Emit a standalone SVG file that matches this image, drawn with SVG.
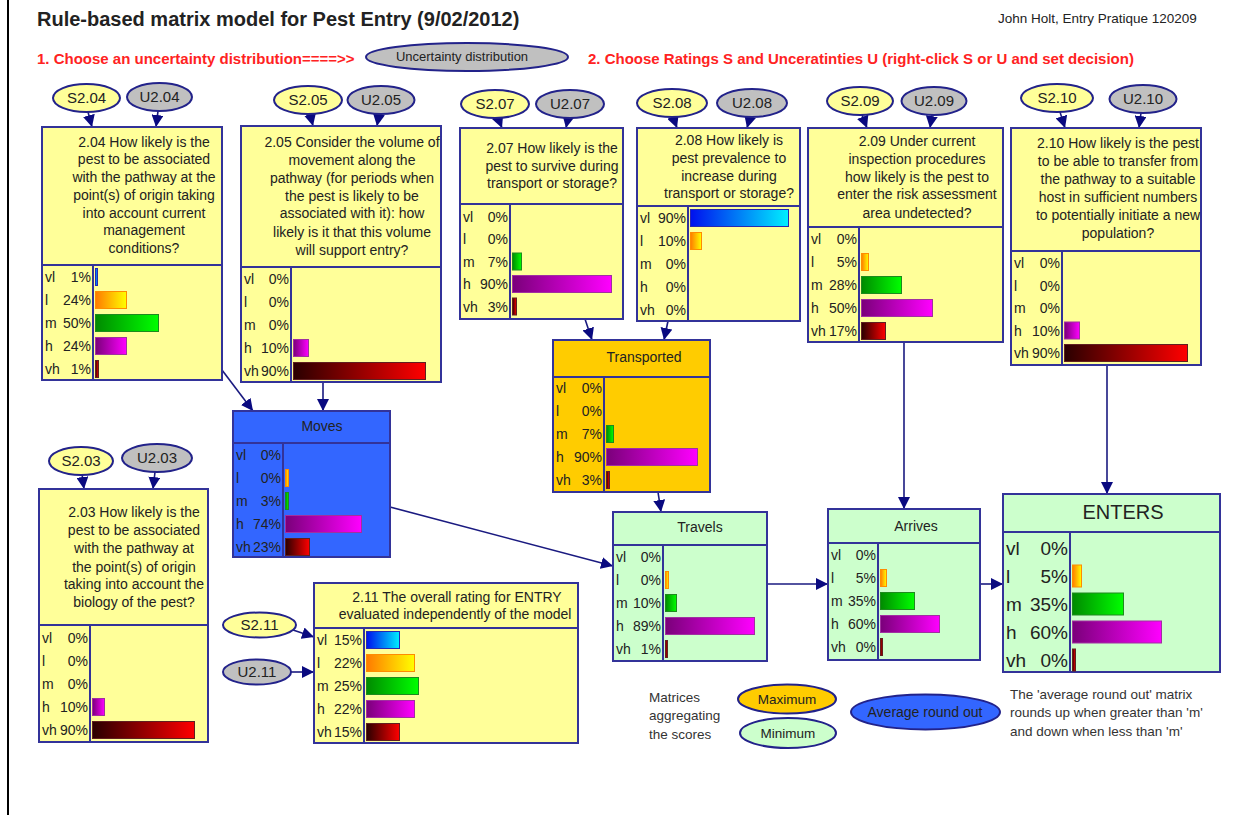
<svg xmlns="http://www.w3.org/2000/svg" width="1245" height="815" viewBox="0 0 1245 815">
<style>
text{font-family:"Liberation Sans",Arial,sans-serif;fill:#222}
.q{font-size:14px;text-anchor:middle}
.lb{font-size:14px}
.pc{font-size:14px;text-anchor:end}
.lbB{font-size:19px}
.pcB{font-size:19px;text-anchor:end}
.box{stroke:#333399;stroke-width:2}
.ln{stroke:#333399;stroke-width:2;fill:none}
.yel{fill:#FFFF99}
.grn{fill:#CCFFCC}
.ell{stroke:#22228a;stroke-width:2}
.s{fill:#FFFF99}
.u{fill:#C0C0C0}
.et{font-size:15px;text-anchor:middle}
.conn{stroke:#1a1a80;stroke-width:1.6;fill:none;marker-end:url(#arr)}
.red{font-size:15px;font-weight:bold;fill:#FF2222}
.bvl{fill:url(#gvl);stroke:#2828b0;stroke-width:1}
.bl{fill:url(#gl);stroke:#ff8c00;stroke-width:1}
.bm{fill:url(#gm);stroke:#1e8a1e;stroke-width:1}
.bh{fill:url(#gh);stroke:#a030a0;stroke-width:1}
.bvh{fill:url(#gvh);stroke:#602020;stroke-width:1}
.leg{font-size:13.5px;fill:#333}
</style>
<defs>
<linearGradient id="gvl"><stop offset="0" stop-color="#0010ee"/><stop offset="1" stop-color="#00f0ff"/></linearGradient>
<linearGradient id="gl"><stop offset="0" stop-color="#ff7a00"/><stop offset="1" stop-color="#ffff00"/></linearGradient>
<linearGradient id="gm"><stop offset="0" stop-color="#008a00"/><stop offset="1" stop-color="#00ff00"/></linearGradient>
<linearGradient id="gh"><stop offset="0" stop-color="#7a007a"/><stop offset="1" stop-color="#ff00ff"/></linearGradient>
<linearGradient id="gvh"><stop offset="0" stop-color="#2a0000"/><stop offset="1" stop-color="#ff0000"/></linearGradient>
<marker id="arr" markerUnits="userSpaceOnUse" markerWidth="13" markerHeight="12" refX="12" refY="6" orient="auto"><path d="M0,0 L12,6 L0,12 z" fill="#0a0a80"/></marker>
</defs>
<rect x="0" y="0" width="1245" height="815" fill="#ffffff"/>
<line x1="8" y1="0" x2="8" y2="815" stroke="#000" stroke-width="2"/>

<g id="header">
<text x="37" y="26" style="font-size:20px;font-weight:bold">Rule-based matrix model for Pest Entry (9/02/2012)</text>
<text x="998" y="23" style="font-size:13.5px">John Holt, Entry Pratique 120209</text>
<text x="37" y="64" class="red">1. Choose an uncertainty distribution====&gt;&gt;</text>
<text x="588" y="64" class="red">2. Choose Ratings S and Unceratinties U (right-click S or U and set decision)</text>
</g>
<g id="uncertainty-distribution">
<ellipse cx="467" cy="57" rx="101" ry="14" class="ell u"/>
<text x="462" y="61" style="font-size:13px;text-anchor:middle">Uncertainty distribution</text>
</g>

<g id="connectors">
<line x1="88" y1="112" x2="92" y2="127" class="conn"/>
<line x1="158" y1="111" x2="156" y2="127" class="conn"/>
<line x1="310" y1="114" x2="313" y2="126" class="conn"/>
<line x1="379" y1="114" x2="377" y2="126" class="conn"/>
<line x1="498" y1="118" x2="502" y2="128" class="conn"/>
<line x1="568" y1="118" x2="566" y2="128" class="conn"/>
<line x1="673" y1="117" x2="677" y2="128" class="conn"/>
<line x1="750" y1="117" x2="747" y2="128" class="conn"/>
<line x1="862" y1="115" x2="867" y2="128" class="conn"/>
<line x1="932" y1="115" x2="930" y2="128" class="conn"/>
<line x1="1060" y1="112" x2="1065" y2="128" class="conn"/>
<line x1="1141" y1="113" x2="1139" y2="128" class="conn"/>
<line x1="82" y1="474" x2="84" y2="489" class="conn"/>
<line x1="155" y1="472" x2="153" y2="489" class="conn"/>
<line x1="222" y1="370" x2="253" y2="411" class="conn"/>
<line x1="323" y1="382" x2="323" y2="411" class="conn"/>
<line x1="585" y1="319" x2="592" y2="340" class="conn"/>
<line x1="668" y1="321" x2="664" y2="340" class="conn"/>
<line x1="658" y1="492" x2="661" y2="512" class="conn"/>
<line x1="390" y1="507" x2="613" y2="566" class="conn"/>
<line x1="767" y1="584" x2="828" y2="584" class="conn"/>
<line x1="904" y1="342" x2="904" y2="509" class="conn"/>
<line x1="980" y1="584" x2="1003" y2="584" class="conn"/>
<line x1="1107" y1="365" x2="1107" y2="494" class="conn"/>
<line x1="293" y1="630" x2="314" y2="637" class="conn"/>
<line x1="291" y1="672" x2="314" y2="672" class="conn"/>
</g>

<g id="S2.04"><ellipse cx="86.5" cy="98" rx="33.5" ry="14" class="ell s"/><text x="86.5" y="103" class="et">S2.04</text></g>
<g id="U2.04"><ellipse cx="159.5" cy="97" rx="32.5" ry="14" class="ell u"/><text x="159.5" y="102" class="et">U2.04</text></g>
<g id="S2.05"><ellipse cx="308" cy="100" rx="34" ry="14" class="ell s"/><text x="308" y="105" class="et">S2.05</text></g>
<g id="U2.05"><ellipse cx="381" cy="100" rx="33.5" ry="14" class="ell u"/><text x="381" y="105" class="et">U2.05</text></g>
<g id="S2.07"><ellipse cx="495" cy="104" rx="34" ry="14" class="ell s"/><text x="495" y="109" class="et">S2.07</text></g>
<g id="U2.07"><ellipse cx="570" cy="104" rx="34" ry="14" class="ell u"/><text x="570" y="109" class="et">U2.07</text></g>
<g id="S2.08"><ellipse cx="672" cy="103" rx="35" ry="14" class="ell s"/><text x="672" y="108" class="et">S2.08</text></g>
<g id="U2.08"><ellipse cx="752" cy="103" rx="35" ry="14" class="ell u"/><text x="752" y="108" class="et">U2.08</text></g>
<g id="S2.09"><ellipse cx="860" cy="101" rx="33" ry="14" class="ell s"/><text x="860" y="106" class="et">S2.09</text></g>
<g id="U2.09"><ellipse cx="934" cy="101" rx="32.5" ry="14" class="ell u"/><text x="934" y="106" class="et">U2.09</text></g>
<g id="S2.10"><ellipse cx="1057" cy="98" rx="36" ry="14" class="ell s"/><text x="1057" y="103" class="et">S2.10</text></g>
<g id="U2.10"><ellipse cx="1143" cy="99" rx="33.5" ry="14" class="ell u"/><text x="1143" y="104" class="et">U2.10</text></g>
<g id="S2.03"><ellipse cx="81" cy="461" rx="32" ry="14" class="ell s"/><text x="81" y="466" class="et">S2.03</text></g>
<g id="U2.03"><ellipse cx="157" cy="458" rx="35" ry="14" class="ell u"/><text x="157" y="463" class="et">U2.03</text></g>
<g id="S2.11"><ellipse cx="259.5" cy="625" rx="36.5" ry="12.5" class="ell s"/><text x="259.5" y="630" class="et">S2.11</text></g>
<g id="U2.11"><ellipse cx="257" cy="672" rx="34" ry="12.5" class="ell u"/><text x="257" y="677" class="et">U2.11</text></g>

<g id="node-2.04">
<rect x="42" y="127" width="180" height="253" class="box yel"/>
<line x1="42" y1="265" x2="222" y2="265" class="ln"/><line x1="93" y1="265" x2="93" y2="380" class="ln"/>
<text class="q" x="144"><tspan x="144" y="147">2.04 How likely is the</tspan><tspan x="144" y="164">pest to be associated</tspan><tspan x="144" y="182">with the pathway at the</tspan><tspan x="144" y="200">point(s) of origin taking</tspan><tspan x="144" y="218">into account current</tspan><tspan x="144" y="235">management</tspan><tspan x="144" y="253">conditions?</tspan></text>
<text class="lb" x="45" y="282">vl</text><text class="pc" x="91" y="282">1%</text>
<text class="lb" x="45" y="305">l</text><text class="pc" x="91" y="305">24%</text>
<text class="lb" x="45" y="328">m</text><text class="pc" x="91" y="328">50%</text>
<text class="lb" x="45" y="351">h</text><text class="pc" x="91" y="351">24%</text>
<text class="lb" x="45" y="374">vh</text><text class="pc" x="91" y="374">1%</text>
<rect x="95.5" y="268.5" width="2" height="17" class="bvl"/>
<rect x="95.5" y="291.5" width="31" height="17" class="bl"/>
<rect x="95.5" y="314.5" width="63" height="17" class="bm"/>
<rect x="95.5" y="337.5" width="31" height="17" class="bh"/>
<rect x="95.5" y="360.5" width="3" height="17" class="bvh"/>
</g>

<g id="node-2.05">
<rect x="241" y="126" width="200" height="256" class="box yel"/>
<line x1="241" y1="267" x2="441" y2="267" class="ln"/><line x1="291" y1="267" x2="291" y2="382" class="ln"/>
<text class="q"><tspan x="352" y="147">2.05 Consider the volume of</tspan><tspan x="352" y="165">movement along the</tspan><tspan x="352" y="183">pathway (for periods when</tspan><tspan x="352" y="201">the pest is likely to be</tspan><tspan x="352" y="218">associated with it): how</tspan><tspan x="352" y="237">likely is it that this volume</tspan><tspan x="352" y="255">will support entry?</tspan></text>
<text class="lb" x="244" y="284">vl</text><text class="pc" x="289" y="284">0%</text>
<text class="lb" x="244" y="307">l</text><text class="pc" x="289" y="307">0%</text>
<text class="lb" x="244" y="330">m</text><text class="pc" x="289" y="330">0%</text>
<text class="lb" x="244" y="353">h</text><text class="pc" x="289" y="353">10%</text>
<text class="lb" x="244" y="376">vh</text><text class="pc" x="289" y="376">90%</text>
<rect x="293.5" y="339.5" width="15" height="17" class="bh"/>
<rect x="293.5" y="362.5" width="132" height="17" class="bvh"/>
</g>

<g id="node-2.07">
<rect x="460" y="128" width="163" height="191" class="box yel"/>
<line x1="460" y1="204" x2="623" y2="204" class="ln"/><line x1="510" y1="204" x2="510" y2="319" class="ln"/>
<text class="q"><tspan x="552" y="153">2.07 How likely is the</tspan><tspan x="552" y="171">pest to survive during</tspan><tspan x="552" y="188">transport or storage?</tspan></text>
<text class="lb" x="463" y="221.5">vl</text><text class="pc" x="508" y="221.5">0%</text>
<text class="lb" x="463" y="244">l</text><text class="pc" x="508" y="244">0%</text>
<text class="lb" x="463" y="266.5">m</text><text class="pc" x="508" y="266.5">7%</text>
<text class="lb" x="463" y="289">h</text><text class="pc" x="508" y="289">90%</text>
<text class="lb" x="463" y="311.5">vh</text><text class="pc" x="508" y="311.5">3%</text>
<rect x="512.5" y="253" width="9" height="17" class="bm"/>
<rect x="512.5" y="275.5" width="99" height="17" class="bh"/>
<rect x="512.5" y="298" width="4" height="17" class="bvh"/>
</g>

<g id="node-2.08">
<rect x="637" y="128" width="163" height="193" class="box yel"/>
<line x1="637" y1="206" x2="800" y2="206" class="ln"/><line x1="688" y1="206" x2="688" y2="321" class="ln"/>
<text class="q"><tspan x="729" y="145">2.08 How likely is</tspan><tspan x="729" y="163">pest prevalence to</tspan><tspan x="729" y="181">increase during</tspan><tspan x="729" y="198">transport or storage?</tspan></text>
<text class="lb" x="640" y="223">vl</text><text class="pc" x="686" y="223">90%</text>
<text class="lb" x="640" y="246">l</text><text class="pc" x="686" y="246">10%</text>
<text class="lb" x="640" y="269">m</text><text class="pc" x="686" y="269">0%</text>
<text class="lb" x="640" y="292">h</text><text class="pc" x="686" y="292">0%</text>
<text class="lb" x="640" y="315">vh</text><text class="pc" x="686" y="315">0%</text>
<rect x="690.5" y="209.5" width="98" height="17" class="bvl"/>
<rect x="690.5" y="232.5" width="11" height="17" class="bl"/>
</g>

<g id="node-2.09">
<rect x="808" y="128" width="195" height="214" class="box yel"/>
<line x1="808" y1="227" x2="1003" y2="227" class="ln"/><line x1="859" y1="227" x2="859" y2="342" class="ln"/>
<text class="q"><tspan x="917" y="146">2.09 Under current</tspan><tspan x="917" y="164">inspection procedures</tspan><tspan x="917" y="182">how likely is the pest to</tspan><tspan x="917" y="199">enter the risk assessment</tspan><tspan x="917" y="218">area undetected?</tspan></text>
<text class="lb" x="811" y="244">vl</text><text class="pc" x="857" y="244">0%</text>
<text class="lb" x="811" y="267">l</text><text class="pc" x="857" y="267">5%</text>
<text class="lb" x="811" y="290">m</text><text class="pc" x="857" y="290">28%</text>
<text class="lb" x="811" y="313">h</text><text class="pc" x="857" y="313">50%</text>
<text class="lb" x="811" y="336">vh</text><text class="pc" x="857" y="336">17%</text>
<rect x="861.5" y="253.5" width="7" height="17" class="bl"/>
<rect x="861.5" y="276.5" width="40" height="17" class="bm"/>
<rect x="861.5" y="299.5" width="71" height="17" class="bh"/>
<rect x="861.5" y="322.5" width="24" height="17" class="bvh"/>
</g>

<g id="node-2.10">
<rect x="1011" y="128" width="190" height="237" class="box yel"/>
<line x1="1011" y1="251" x2="1201" y2="251" class="ln"/><line x1="1062" y1="251" x2="1062" y2="365" class="ln"/>
<text class="q"><tspan x="1118" y="148">2.10 How likely is the pest</tspan><tspan x="1118" y="166">to be able to transfer from</tspan><tspan x="1118" y="184">the pathway to a suitable</tspan><tspan x="1118" y="202">host in sufficient numbers</tspan><tspan x="1118" y="220">to potentially initiate a new</tspan><tspan x="1118" y="238">population?</tspan></text>
<text class="lb" x="1014" y="268">vl</text><text class="pc" x="1060" y="268">0%</text>
<text class="lb" x="1014" y="290.5">l</text><text class="pc" x="1060" y="290.5">0%</text>
<text class="lb" x="1014" y="313">m</text><text class="pc" x="1060" y="313">0%</text>
<text class="lb" x="1014" y="335.5">h</text><text class="pc" x="1060" y="335.5">10%</text>
<text class="lb" x="1014" y="358">vh</text><text class="pc" x="1060" y="358">90%</text>
<rect x="1064.5" y="322" width="15" height="17" class="bh"/>
<rect x="1064.5" y="344.5" width="123" height="17" class="bvh"/>
</g>

<g id="node-moves">
<rect x="233" y="411" width="157" height="146" class="box" fill="#3366FF"/>
<line x1="233" y1="443" x2="390" y2="443" class="ln"/><line x1="283" y1="443" x2="283" y2="557" class="ln"/>
<text class="q" x="322" y="431">Moves</text>
<text class="lb" x="236" y="460">vl</text><text class="pc" x="281" y="460">0%</text>
<text class="lb" x="236" y="483">l</text><text class="pc" x="281" y="483">0%</text>
<text class="lb" x="236" y="506">m</text><text class="pc" x="281" y="506">3%</text>
<text class="lb" x="236" y="529">h</text><text class="pc" x="281" y="529">74%</text>
<text class="lb" x="236" y="552">vh</text><text class="pc" x="281" y="552">23%</text>
<rect x="285.5" y="469.5" width="3" height="17" class="bl"/>
<rect x="285.5" y="492.5" width="3" height="17" class="bm"/>
<rect x="285.5" y="515.5" width="76" height="17" class="bh"/>
<rect x="285.5" y="538.5" width="24" height="17" class="bvh"/>
</g>

<g id="node-transported">
<rect x="553" y="340" width="157" height="152" class="box" fill="#FFCC00"/>
<line x1="553" y1="377" x2="710" y2="377" class="ln"/><line x1="604" y1="377" x2="604" y2="492" class="ln"/>
<text class="q" x="644" y="362">Transported</text>
<text class="lb" x="556" y="393">vl</text><text class="pc" x="602" y="393">0%</text>
<text class="lb" x="556" y="416">l</text><text class="pc" x="602" y="416">0%</text>
<text class="lb" x="556" y="439">m</text><text class="pc" x="602" y="439">7%</text>
<text class="lb" x="556" y="462">h</text><text class="pc" x="602" y="462">90%</text>
<text class="lb" x="556" y="485">vh</text><text class="pc" x="602" y="485">3%</text>
<rect x="606.5" y="425.5" width="7" height="17" class="bm"/>
<rect x="606.5" y="448.5" width="91" height="17" class="bh"/>
<rect x="606.5" y="471.5" width="3" height="17" class="bvh"/>
</g>

<g id="node-travels">
<rect x="613" y="512" width="154" height="149" class="box grn"/>
<line x1="613" y1="545" x2="767" y2="545" class="ln"/><line x1="663" y1="545" x2="663" y2="661" class="ln"/>
<text class="q" x="700" y="532">Travels</text>
<text class="lb" x="616" y="562">vl</text><text class="pc" x="661" y="562">0%</text>
<text class="lb" x="616" y="585">l</text><text class="pc" x="661" y="585">0%</text>
<text class="lb" x="616" y="608">m</text><text class="pc" x="661" y="608">10%</text>
<text class="lb" x="616" y="631">h</text><text class="pc" x="661" y="631">89%</text>
<text class="lb" x="616" y="654">vh</text><text class="pc" x="661" y="654">1%</text>
<rect x="665.5" y="571.5" width="3" height="17" class="bl"/>
<rect x="665.5" y="594.5" width="11" height="17" class="bm"/>
<rect x="665.5" y="617.5" width="89" height="17" class="bh"/>
<rect x="665.5" y="640.5" width="2" height="17" class="bvh"/>
</g>

<g id="node-arrives">
<rect x="828" y="509" width="152" height="151" class="box grn"/>
<line x1="828" y1="543" x2="980" y2="543" class="ln"/><line x1="878" y1="543" x2="878" y2="660" class="ln"/>
<text class="q" x="916" y="531">Arrives</text>
<text class="lb" x="831" y="560">vl</text><text class="pc" x="876" y="560">0%</text>
<text class="lb" x="831" y="583">l</text><text class="pc" x="876" y="583">5%</text>
<text class="lb" x="831" y="606">m</text><text class="pc" x="876" y="606">35%</text>
<text class="lb" x="831" y="629">h</text><text class="pc" x="876" y="629">60%</text>
<text class="lb" x="831" y="652">vh</text><text class="pc" x="876" y="652">0%</text>
<rect x="880.5" y="569.5" width="6" height="17" class="bl"/>
<rect x="880.5" y="592.5" width="34" height="17" class="bm"/>
<rect x="880.5" y="615.5" width="59" height="17" class="bh"/>
<rect x="880.5" y="638.5" width="2" height="17" class="bvh"/>
</g>

<g id="node-enters">
<rect x="1003" y="494" width="217" height="178" class="box grn"/>
<line x1="1003" y1="532" x2="1220" y2="532" class="ln"/><line x1="1070" y1="532" x2="1070" y2="672" class="ln"/>
<text x="1123" y="519" style="font-size:20px;text-anchor:middle">ENTERS</text>
<text class="lbB" x="1006" y="555">vl</text><text class="pcB" x="1068" y="555">0%</text>
<text class="lbB" x="1006" y="583">l</text><text class="pcB" x="1068" y="583">5%</text>
<text class="lbB" x="1006" y="611">m</text><text class="pcB" x="1068" y="611">35%</text>
<text class="lbB" x="1006" y="639">h</text><text class="pcB" x="1068" y="639">60%</text>
<text class="lbB" x="1006" y="667">vh</text><text class="pcB" x="1068" y="667">0%</text>
<rect x="1072.5" y="565" width="9" height="22" class="bl"/>
<rect x="1072.5" y="593" width="51" height="22" class="bm"/>
<rect x="1072.5" y="621" width="89" height="22" class="bh"/>
<rect x="1072.5" y="649" width="3" height="22" class="bvh"/>
</g>

<g id="node-2.03">
<rect x="39" y="489" width="169" height="253" class="box yel"/>
<line x1="39" y1="625" x2="208" y2="625" class="ln"/><line x1="90" y1="625" x2="90" y2="742" class="ln"/>
<text class="q"><tspan x="134" y="517">2.03 How likely is the</tspan><tspan x="134" y="535">pest to be associated</tspan><tspan x="134" y="553">with the pathway at</tspan><tspan x="134" y="572">the point(s) of origin</tspan><tspan x="134" y="589">taking into account the</tspan><tspan x="134" y="607">biology of the pest?</tspan></text>
<text class="lb" x="42" y="643">vl</text><text class="pc" x="88" y="643">0%</text>
<text class="lb" x="42" y="666">l</text><text class="pc" x="88" y="666">0%</text>
<text class="lb" x="42" y="689">m</text><text class="pc" x="88" y="689">0%</text>
<text class="lb" x="42" y="712">h</text><text class="pc" x="88" y="712">10%</text>
<text class="lb" x="42" y="735">vh</text><text class="pc" x="88" y="735">90%</text>
<rect x="92.5" y="698.5" width="12" height="17" class="bh"/>
<rect x="92.5" y="721.5" width="102" height="17" class="bvh"/>
</g>

<g id="node-2.11">
<rect x="314" y="583" width="264" height="160" class="box yel"/>
<line x1="314" y1="628" x2="578" y2="628" class="ln"/><line x1="364" y1="628" x2="364" y2="743" class="ln"/>
<text class="q"><tspan x="457" y="602">2.11 The overall rating for ENTRY</tspan><tspan x="455" y="619">evaluated independently of the model</tspan></text>
<text class="lb" x="317" y="645">vl</text><text class="pc" x="362" y="645">15%</text>
<text class="lb" x="317" y="668">l</text><text class="pc" x="362" y="668">22%</text>
<text class="lb" x="317" y="691">m</text><text class="pc" x="362" y="691">25%</text>
<text class="lb" x="317" y="714">h</text><text class="pc" x="362" y="714">22%</text>
<text class="lb" x="317" y="737">vh</text><text class="pc" x="362" y="737">15%</text>
<rect x="366.5" y="631.5" width="33" height="17" class="bvl"/>
<rect x="366.5" y="654.5" width="48" height="17" class="bl"/>
<rect x="366.5" y="677.5" width="52" height="17" class="bm"/>
<rect x="366.5" y="700.5" width="48" height="17" class="bh"/>
<rect x="366.5" y="723.5" width="33" height="17" class="bvh"/>
</g>

<g id="legend">
<text class="leg"><tspan x="649" y="702">Matrices</tspan><tspan x="649" y="720">aggregating</tspan><tspan x="649" y="739">the scores</tspan></text>
<ellipse cx="787" cy="699" rx="49" ry="14.5" class="ell" fill="#FFCC00"/>
<text x="787" y="704" style="font-size:13.5px;text-anchor:middle">Maximum</text>
<ellipse cx="788" cy="733" rx="48" ry="15" class="ell grn"/>
<text x="788" y="738" style="font-size:13.5px;text-anchor:middle">Minimum</text>
<ellipse cx="925.5" cy="712" rx="74.5" ry="17.5" class="ell" fill="#3366FF"/>
<text x="925" y="717" style="font-size:14px;text-anchor:middle">Average round out</text>
<text class="leg"><tspan x="1010" y="699">The 'average round out' matrix</tspan><tspan x="1010" y="717">rounds up when greater than 'm'</tspan><tspan x="1010" y="736">and down when less than 'm'</tspan></text>
</g>
</svg>
